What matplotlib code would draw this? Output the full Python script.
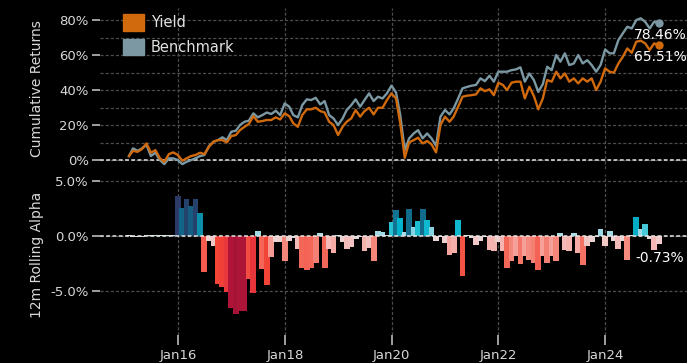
import matplotlib
matplotlib.use("Agg")
import matplotlib.pyplot as plt
import matplotlib.dates as mdates
from matplotlib.colors import LinearSegmentedColormap, Normalize
from matplotlib.patches import Patch
from matplotlib.ticker import FuncFormatter, FixedLocator
import pandas as pd

# ---- data (monthly, month-end) ----
dates = pd.date_range("2015-01-31", periods=120, freq="ME")

yield_cum = [
    2.3, 5.3, 4.7, 6.3, 9.5, 4.2, 5.7, 1.0, -1.0, 3.4, 4.4, 2.9, -0.4, 1.0, 2.3, 2.9,
    4.2, 3.4, 7.6, 10.5, 11.4, 11.4, 10.1, 13.7, 14.3, 17.1, 19.0, 20.6, 25.1, 21.9,
    22.3, 22.9, 22.9, 24.4, 23.2, 26.7, 25.1, 21.0, 19.0, 25.7, 29.0,
    29.0, 29.9, 28.0, 27.2, 21.9, 20.0, 14.3, 19.0, 21.9, 23.8, 28.6, 24.8, 28.0, 29.9,
    26.1, 29.9, 29.9, 34.3, 38.1, 35.2, 21.0, 1.3, 10.1, 11.4, 12.8, 9.5, 10.9, 9.0,
    4.4, 20.0, 24.8, 21.9, 24.8, 30.5, 36.2, 36.8, 37.1, 37.5, 41.0, 39.4, 40.4,
    37.1, 44.2, 42.9, 40.0, 44.2, 44.8, 44.8, 35.2, 41.9, 36.6, 29.0, 35.2, 45.7, 44.8,
    50.5, 46.7, 49.5, 44.8, 46.7, 43.8, 46.7, 44.8, 46.7, 40.0, 44.8, 52.4, 50.5, 49.9,
    55.2, 59.0, 63.8, 61.3, 67.6, 68.2, 66.7, 62.9, 66.7, 65.51,
]

bench_cum = [
    2.3, 6.7, 5.3, 6.7, 8.6, 2.3, 4.2, 0.0, -2.3, 1.0, 1.0, 0.0, -2.3, -1.0, 0.0, 1.0,
    2.3, 2.9, 8.0, 10.5, 11.4, 13.0, 11.4, 16.2, 16.8, 20.0, 21.9, 22.5, 26.7, 24.4,
    25.7, 27.2, 26.3, 28.2, 25.7, 32.4, 30.5, 25.7, 24.4, 31.4, 34.7,
    34.3, 35.6, 31.8, 33.7, 25.7, 23.8, 20.0, 23.8, 28.6, 31.4, 34.7, 30.5, 34.3, 38.1,
    33.7, 36.2, 35.2, 38.1, 42.5, 38.7, 25.7, 5.7, 12.4, 15.2, 17.1, 12.4, 15.2, 12.4,
    8.2, 24.8, 28.6, 26.1, 29.5, 35.2, 41.0, 41.8, 42.5, 42.9, 46.7, 45.1, 48.2,
    44.8, 50.5, 50.5, 50.5, 51.4, 51.8, 53.0, 44.8, 49.5, 45.7, 39.0, 43.4, 53.3, 51.4,
    60.0, 56.2, 61.0, 54.3, 55.2, 60.0, 55.2, 57.1, 54.3, 50.5, 54.3, 63.2, 61.0, 61.0,
    68.6, 72.4, 76.2, 75.2, 80.0, 81.0, 79.0, 75.2, 79.0, 78.46,
]

alpha_12m = [
    0.08, -0.08, -0.1, -0.08, 0.1, 0.08, 0.12, 0.1, 0.08, 0.12, 0.1,
    3.57, 2.56, 3.35, 2.71, 3.35, 2.07, -3.3, -0.5, -0.9, -4.34, -4.64, -5.03, -6.48,
    -7.05, -6.75, -6.75, -3.92, -5.12, 0.45, -2.98, -4.4, -1.87, -0.51, -0.55, -2.3,
    -0.5, -0.15, -1.2, -2.9, -3.1, -2.9, -2.4, 0.25, -2.9, -1.2, -1.55, 0.06,
    -0.55, -1.2, -1.0, -0.3, -0.1, -1.4, -1.05, -2.3, 0.43, 0.4, 0.1,
    1.27, 2.35, 1.6, 0.36, 2.44, 0.84, 1.36, 2.44, 1.45, 0.84, -0.42, -0.1,
    -0.6, -1.7, -1.5, 1.45, -3.6, 0.05, -0.2, -0.8, -0.46, -0.1, -1.3, -1.37,
    -0.55, -1.37, -2.9, -2.3, -1.8, -2.56, -1.8, -2.2, -2.4, -3.1, -1.8, -2.4,
    -1.8, -2.3, 0.3, -1.25, -1.37, 0.3, -1.55, -2.65, -0.9, -0.55, -0.1, 0.6,
    -0.9, 0.43, -0.46, -1.2, -0.46, -2.2, 0.05, 1.7, 0.6, 1.07, -0.27, -1.27, -0.73,
]

# ---- styling ----
BG = "black"
ORANGE = "#d06a0c"
GREY = "#7b98a3"
TXT = "#d8d8d8"
GRID = "#4d4d4d"
DASH = (0, (2.5, 1.6))

vmin, vmax = -7.2, 3.6
anchors = [
    (-7.2, "#a51236"), (-6.0, "#b8173b"), (-5.4, "#e0303f"), (-4.5, "#f34335"),
    (-3.5, "#f25548"), (-2.8, "#f36b5d"), (-2.2, "#f58a7f"), (-1.6, "#f5a9a3"),
    (-1.0, "#f3c3c1"), (-0.4, "#ead6d6"), (0.0, "#dcdcdc"), (0.3, "#aadde7"),
    (0.8, "#8fd6e3"), (1.2, "#2fc4d6"), (1.6, "#00b3cc"), (2.0, "#0895b0"),
    (2.4, "#11708f"), (2.8, "#16597e"), (3.6, "#2b3a66"),
]
cmap = LinearSegmentedColormap.from_list(
    "alpha_div", [((v - vmin) / (vmax - vmin), c) for v, c in anchors]
)
norm = Normalize(vmin, vmax)

plt.rcParams["font.family"] = ["DejaVu Sans"]

W, H = 687, 363
fig = plt.figure(figsize=(W / 100, H / 100), dpi=100, facecolor=BG)


def box(l, t, r, b):
    return [l / W, 1 - b / H, (r - l) / W, (b - t) / H]


ax1 = fig.add_axes(box(100, 8, 687, 169))
ax2 = fig.add_axes(box(100, 174, 687, 335), sharex=ax1)

for ax in (ax1, ax2):
    ax.set_facecolor(BG)
    for s in ax.spines.values():
        s.set_visible(False)
    ax.tick_params(colors="#bbbbbb", labelcolor=TXT, labelsize=9.5)

# ---- cumulative returns ----
ax1.plot(dates, bench_cum, color=GREY, lw=1.7, zorder=3)
ax1.plot(dates, yield_cum, color=ORANGE, lw=1.7, zorder=4)
ax1.plot(dates[-1], bench_cum[-1], "o", color=GREY, ms=5, zorder=5)
ax1.plot(dates[-1], yield_cum[-1], "o", color=ORANGE, ms=5, zorder=5)
for v in (bench_cum[-1], yield_cum[-1]):
    ax1.annotate(f"{v:.2f}%", xy=(dates[-1], v), xytext=(20, -3.5),
                 textcoords="offset points", ha="right", va="top",
                 color="white", fontsize=10, zorder=6)

ax1.set_ylim(-5.1, 86.9)
ax1.yaxis.set_major_locator(FixedLocator([0, 20, 40, 60, 80]))
ax1.yaxis.set_minor_locator(FixedLocator([10, 30, 50, 70]))
ax1.yaxis.set_major_formatter(FuncFormatter(lambda v, p: f"{v:.0f}%"))
ax1.tick_params(axis="y", which="both", length=6, width=1.2, pad=2)
ax1.grid(which="both", axis="y", color=GRID, ls=DASH, lw=0.9)
ax1.grid(which="major", axis="x", color=GRID, ls=DASH, lw=0.9)
ax1.axhline(0, color="#e6e6e6", ls=DASH, lw=1.1, zorder=2)
ax1.tick_params(axis="x", which="both", length=0, labelbottom=False)
ax1.set_ylabel("Cumulative Returns", color=TXT, fontsize=10, va="center")
ax1.yaxis.set_label_coords(-0.107, 0.5)

leg = ax1.legend(
    handles=[Patch(color=ORANGE, label="Yield"), Patch(color=GREY, label="Benchmark")],
    loc="upper left", bbox_to_anchor=(0.027, 1.01), frameon=False, borderpad=0,
    handlelength=1.4, handleheight=1.4, labelspacing=0.55, handletextpad=0.5,
    fontsize=10.5,
)
for t in leg.get_texts():
    t.set_color("#e0e0e0")

# ---- 12m rolling alpha ----
ax2.bar(dates, alpha_12m, width=40, color=cmap(norm(alpha_12m)), zorder=2)
ax2.axhline(0, color="#e6e6e6", ls=DASH, lw=1.1, zorder=3)
ax2.annotate(f"{alpha_12m[-1]:.2f}%", xy=(dates[-1], alpha_12m[-1]), xytext=(1, -5),
             textcoords="offset points", ha="center", va="top", color="white",
             fontsize=10, zorder=6)
ax2.set_ylim(-8.95, 5.6)
ax2.yaxis.set_major_locator(FixedLocator([-5, 0, 5]))
ax2.yaxis.set_major_formatter(FuncFormatter(lambda v, p: f"{v:.1f}%"))
ax2.tick_params(axis="y", length=6, width=1.2, pad=2)
ax2.grid(which="major", axis="both", color=GRID, ls=DASH, lw=0.9)
ax2.set_ylabel("12m Rolling Alpha", color=TXT, fontsize=10, va="center")
ax2.yaxis.set_label_coords(-0.107, 0.5)

ax2.xaxis.set_major_locator(mdates.YearLocator(2, month=1, day=1))
ax2.xaxis.set_minor_locator(mdates.YearLocator(1, month=1, day=1))
ax2.xaxis.set_major_formatter(mdates.DateFormatter("%b%y"))
ax2.tick_params(axis="x", which="major", length=7, width=1.2, pad=3)
ax2.tick_params(axis="x", which="minor", length=2, width=1.2)
ax2.set_xlim(pd.Timestamp("2014-07-17"), pd.Timestamp("2025-07-13"))

fig.savefig("out.png", dpi=100, facecolor=BG)
